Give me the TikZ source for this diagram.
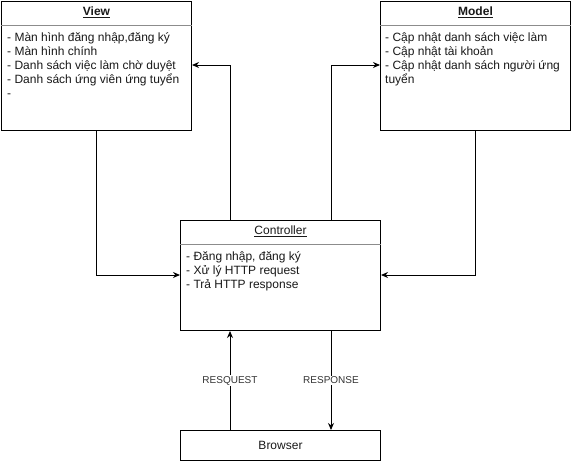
\documentclass[tikz,border=0pt]{standalone}
\usepackage{fontspec}
\setmainfont{Liberation Sans}
\usetikzlibrary{arrows.meta}
\begin{document}
\begin{tikzpicture}[x=1pt,y=-1pt,
  box/.style={draw=black,line width=1pt,fill=white,inner sep=0pt,anchor=north west},
  sepline/.style={draw=black!45,line width=1pt},
  body/.style={anchor=north west,align=left,inner sep=0pt,font=\fontsize{12pt}{14pt}\selectfont,text=black!90},
  ttl/.style={inner sep=0pt,font=\fontsize{12pt}{14pt}\selectfont,text=black!90},
  arr/.style={draw=black,line width=1pt,-{Stealth[length=7pt,width=6pt]}},
  lbl/.style={fill=white,inner sep=1pt,font=\fontsize{10pt}{12pt}\selectfont,text=black!80}]
\useasboundingbox (0,0) rectangle (571,461);
% boxes
\node[box,minimum width=190pt,minimum height=129pt] (view) at (1,1) {};
\node[box,minimum width=190pt,minimum height=129pt] (model) at (380,1) {};
\node[box,minimum width=200pt,minimum height=110pt] (ctrl) at (180,220) {};
\node[box,minimum width=200pt,minimum height=30pt] (browser) at (180,430) {};
% separators
\draw[sepline] ([yshift=-24pt]view.north west) -- ([yshift=-24pt]view.north east);
\draw[sepline] ([yshift=-24pt]model.north west) -- ([yshift=-24pt]model.north east);
\draw[sepline] ([yshift=-24pt]ctrl.north west) -- ([yshift=-24pt]ctrl.north east);
% titles
\node[ttl] (viewt) at ([yshift=-11pt]view.north) {\textbf{\underline{View}}};
\node[ttl] (modelt) at ([yshift=-11pt]model.north) {\textbf{\underline{Model}}};
\node[ttl] (ctrlt) at ([yshift=-11pt]ctrl.north) {\underline{Controller}};
\node[ttl] (browsert) at (browser.center) {Browser};
% bodies
\node[body] (viewb) at ([xshift=6pt,yshift=-31pt]view.north west)
  {- Màn hình đăng nhập,đăng ký\\- Màn hình chính\\- Danh sách việc làm chờ duyệt\\- Danh sách ứng viên ứng tuyển\\-};
\node[body] (modelb) at ([xshift=5pt,yshift=-31pt]model.north west)
  {- Cập nhật danh sách việc làm\\- Cập nhật tài khoản\\- Cập nhật danh sách người ứng\\tuyển};
\node[body] (ctrlb) at ([xshift=6pt,yshift=-31pt]ctrl.north west)
  {- Đăng nhập, đăng ký\\- Xử lý HTTP request\\- Trả HTTP response};
% connectors
\draw[arr] (view.south) |- ([yshift=-55pt]ctrl.north west);
\draw[arr] ([xshift=50pt]ctrl.north west) |- ([yshift=-64pt]view.north east);
\draw[arr] ([xshift=-50pt]ctrl.north east) |- ([yshift=-64pt]model.north west);
\draw[arr] (model.south) |- ([yshift=-55pt]ctrl.north east);
\draw[arr] ([xshift=50pt]browser.north west) -- node[lbl] {RESQUEST} ([xshift=50pt]ctrl.south west);
\draw[arr] ([xshift=-50pt]ctrl.south east) -- node[lbl] {RESPONSE} ([xshift=-50pt]browser.north east);
\end{tikzpicture}
\end{document}
